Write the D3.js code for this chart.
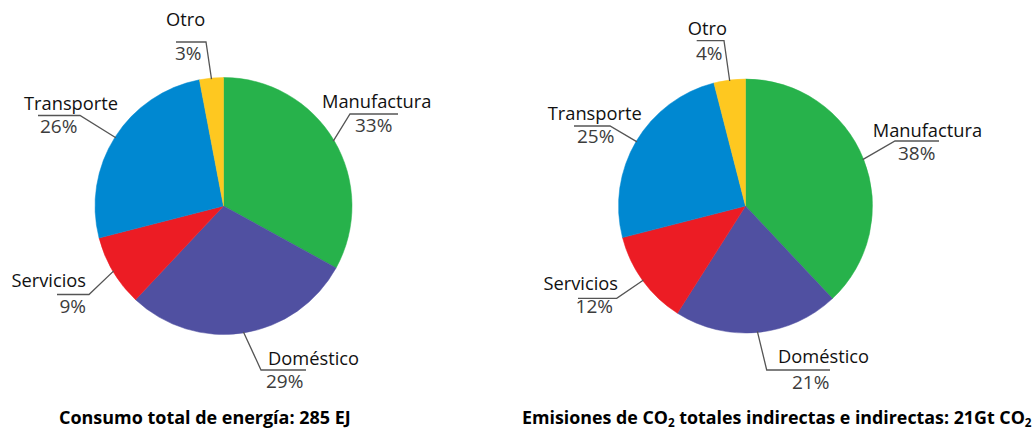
<!doctype html>
<html lang="es">
<head>
<meta charset="UTF-8">
<title>Consumo y emisiones por sector</title>
<script src="https://d3js.org/d3.v7.min.js"></script>
<style>
  body { margin: 0; background: #fff; }
  text { font-family: "Open Sans", "DejaVu Sans", sans-serif; }
</style>
</head>
<body>
<div id="chart-area"></div>

<script>
const W = 1036;
const H = 430;

// data
const categories   = ['Manufactura', 'Doméstico', 'Servicios', 'Transporte', 'Otro'];
const energyValues = [33, 29, 9, 26, 3];
const co2Values    = [38, 21, 12, 25, 4];
const energyLabels = ['33%', '29%', '9%', '26%', '3%'];
const co2Labels    = ['38%', '21%', '12%', '25%', '4%'];

const colors = d3.scaleOrdinal()
    .domain(categories)
    .range(['#27b24b', '#5050a1', '#ec1c24', '#0088d1', '#fec820']);

// label layout relative to pie centre: elbow, end of the flat line, name anchor, value anchor
const leftLayout = {
    'Manufactura': { elbow: [126.5, -92], end: [174.5, -92], name: [98.5, -98, 'start'], pct: [131.5, -74.5, 'start'] },
    'Doméstico':   { elbow: [37.5, 164],  end: [82.5, 164],  name: [44.5, 159, 'start'],  pct: [42.5, 182, 'start'] },
    'Servicios':   { elbow: [-134.5, 88.5], end: [-166.5, 88.5], name: [-137.5, 81, 'end'], pct: [-137.5, 106.5, 'end'] },
    'Transporte':  { elbow: [-143.5, -90.5], end: [-185.5, -90.5], name: [-199.5, -96, 'start'], pct: [-183.5, -73, 'start'] },
    'Otro':        { elbow: [-17.5, -164], end: [-47.5, -164], name: [-57.5, -180.5, 'start'], pct: [-48.5, -146, 'start'] }
};
const rightLayout = {
    'Manufactura': { elbow: [149.5, -65], end: [193.5, -65], name: [127.2, -69.2, 'start'], pct: [152.5, -46, 'start'] },
    'Doméstico':   { elbow: [21.2, 164], end: [84.5, 164], name: [32.5, 157.3, 'start'], pct: [46.5, 183, 'start'] },
    'Servicios':   { elbow: [-128.8, 92.3], end: [-167.5, 92.3], name: [-127.5, 84, 'end'], pct: [-132.5, 107, 'end'] },
    'Transporte':  { elbow: [-135.5, -80], end: [-171.5, -80], name: [-197.8, -86, 'start'], pct: [-168.5, -63.5, 'start'] },
    'Otro':        { elbow: [-21.5, -165.3], end: [-48.8, -165.3], name: [-57.8, -171, 'start'], pct: [-49.5, -146, 'start'] }
};

const svg = d3.select('#chart-area')
    .append('svg')
    .attr('width', W)
    .attr('height', H);

function drawPie(cx, cy, r, values, labels, layout) {
    const data = categories.map((c, i) => ({ cat: c, value: values[i], label: labels[i] }));

    const pie = d3.pie()
        .value(d => d.value)
        .sort(null);

    const arc = d3.arc()
        .innerRadius(0)
        .outerRadius(r);

    const g = svg.append('g')
        .attr('transform', `translate(${cx},${cy})`);

    const arcs = pie(data);

    g.selectAll('path.slice')
        .data(arcs)
        .enter()
        .append('path')
            .attr('class', 'slice')
            .attr('d', arc)
            .attr('fill', d => colors(d.data.cat))
            .attr('stroke', d => colors(d.data.cat))
            .attr('stroke-width', 0.5);

    // leader lines start on the rim at the slice middle
    g.selectAll('polyline.leader')
        .data(arcs)
        .enter()
        .append('polyline')
            .attr('class', 'leader')
            .attr('points', d => {
                const a = (d.startAngle + d.endAngle) / 2;
                const rim = [Math.sin(a) * (r - 1), -Math.cos(a) * (r - 1)];
                const L = layout[d.data.cat];
                return [rim, L.elbow, L.end].map(p => p.join(',')).join(' ');
            })
            .attr('fill', 'none')
            .attr('stroke', '#555')
            .attr('stroke-width', 1.3);

    g.selectAll('text.name')
        .data(arcs)
        .enter()
        .append('text')
            .attr('class', 'name')
            .attr('x', d => layout[d.data.cat].name[0])
            .attr('y', d => layout[d.data.cat].name[1])
            .attr('text-anchor', d => layout[d.data.cat].name[2])
            .attr('font-size', 18.3)
            .attr('fill', '#111')
            .text(d => d.data.cat);

    g.selectAll('text.pct')
        .data(arcs)
        .enter()
        .append('text')
            .attr('class', 'pct')
            .attr('x', d => layout[d.data.cat].pct[0])
            .attr('y', d => layout[d.data.cat].pct[1])
            .attr('text-anchor', d => layout[d.data.cat].pct[2])
            .attr('font-size', 19)
            .attr('fill', '#3c3c3c')
            .text(d => d.data.label);
}

drawPie(223.5, 206, 128.5, energyValues, energyLabels, leftLayout);
drawPie(745.5, 206, 127, co2Values, co2Labels, rightLayout);

// titles, squeezed horizontally to the reference widths
function title(x, parts, width) {
    const t = svg.append('text')
        .attr('x', x)
        .attr('y', 424.5)
        .attr('font-size', 17.5)
        .attr('font-weight', 'bold')
        .attr('fill', '#000');
    parts.forEach(p => {
        if (p.sub) {
            t.append('tspan').attr('font-size', 11.5).attr('dy', 2.5).text(p.text);
        } else {
            t.append('tspan').attr('dy', p.after ? -2.5 : 0).text(p.text);
        }
    });
    const w = t.node().getComputedTextLength();
    t.attr('transform', `translate(${x},0) scale(${width / w},1) translate(${-x},0)`);
}

title(59, [{ text: 'Consumo total de energía: 285 EJ' }], 292);
title(522, [
    { text: 'Emisiones de CO' },
    { text: '2', sub: true },
    { text: ' totales indirectas e indirectas: 21Gt CO', after: true },
    { text: '2', sub: true }
], 510);
</script>
</body>
</html>
